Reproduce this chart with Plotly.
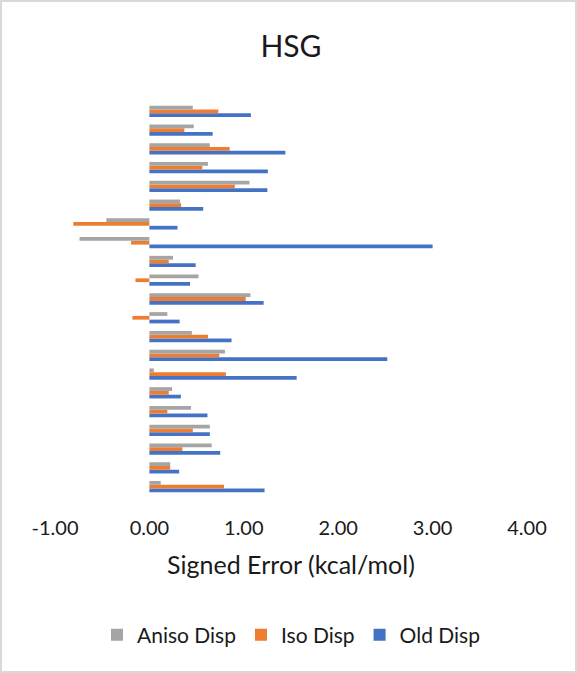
import plotly.graph_objects as go

# Systems, listed bottom to top
systems = [str(i) for i in range(1, 22)]

# Signed errors (kcal/mol) for each dispersion model, bottom to top
aniso_disp = [0.12, 0.22, 0.66, 0.64, 0.44, 0.24, 0.047, 0.80, 0.45, 0.19,
              1.07, 0.52, 0.25, -0.74, -0.456, 0.325, 1.06, 0.62, 0.64, 0.47, 0.46]
iso_disp = [0.79, 0.22, 0.35, 0.46, 0.19, 0.205, 0.81, 0.74, 0.62, -0.18,
            1.02, -0.148, 0.205, -0.194, -0.806, 0.336, 0.905, 0.56, 0.85, 0.37, 0.73]
old_disp = [1.22, 0.315, 0.75, 0.64, 0.615, 0.333, 1.56, 2.52, 0.87, 0.32,
            1.21, 0.43, 0.49, 3.00, 0.297, 0.57, 1.25, 1.255, 1.44, 0.67, 1.075]

tick_vals = [-1, 0, 1, 2, 3, 4]
tick_text = ["-1.00", "0.00", "1.00", "2.00", "3.00", "4.00"]

FONT = "Lato"
INK = "#1a1a1a"
W, H = 577, 673
ML, MR, MT, MB = 55, 50, 102, 177

fig = go.Figure()
fig.add_trace(go.Bar(y=systems, x=old_disp, orientation="h", name="Old Disp",
                     marker=dict(color="#4472C4", line=dict(width=0))))
fig.add_trace(go.Bar(y=systems, x=iso_disp, orientation="h", name="Iso Disp",
                     marker=dict(color="#ED7D31", line=dict(width=0))))
fig.add_trace(go.Bar(y=systems, x=aniso_disp, orientation="h", name="Aniso Disp",
                     marker=dict(color="#A5A5A5", line=dict(width=0))))

pw = W - ML - MR
ph = H - MT - MB

fig.update_layout(
    width=W, height=H,
    margin=dict(l=ML, r=MR, t=MT, b=MB),
    paper_bgcolor="white", plot_bgcolor="white",
    barmode="group", bargap=0.4, bargroupgap=0,
    font=dict(family=FONT, color=INK),
    title=dict(text="HSG", x=(ML + pw / 2) / W, xanchor="center",
               y=1 - 46 / H, yanchor="middle",
               font=dict(family=FONT, size=30, color=INK)),
    xaxis=dict(range=[-1, 4], tickvals=tick_vals, ticktext=tick_text,
               showgrid=False, zeroline=False, showline=False, ticks="",
               ticklabelstandoff=18,
               tickfont=dict(family=FONT, size=20, color=INK),
               title=dict(text="Signed Error (kcal/mol)", standoff=18,
                          font=dict(family=FONT, size=25, color=INK))),
    yaxis=dict(showticklabels=False, showgrid=False, zeroline=False,
               showline=False, ticks="", categoryorder="array",
               categoryarray=systems),
    legend=dict(orientation="h", traceorder="reversed", x=0.5, xanchor="center",
                y=(H - MB - 635) / ph, yanchor="middle",
                font=dict(family=FONT, size=21, color=INK),
                itemwidth=30),
    showlegend=True,
)

# Chart frame
fig.add_shape(type="rect", xref="paper", yref="paper",
              x0=(1 - ML) / pw, x1=(W - 1 - ML) / pw,
              y0=(H - MB - (H - 1)) / ph, y1=(H - MB - 1) / ph,
              line=dict(color="#d9d9d9", width=2), fillcolor="rgba(0,0,0,0)",
              layer="below")

fig.write_html("out.html")
